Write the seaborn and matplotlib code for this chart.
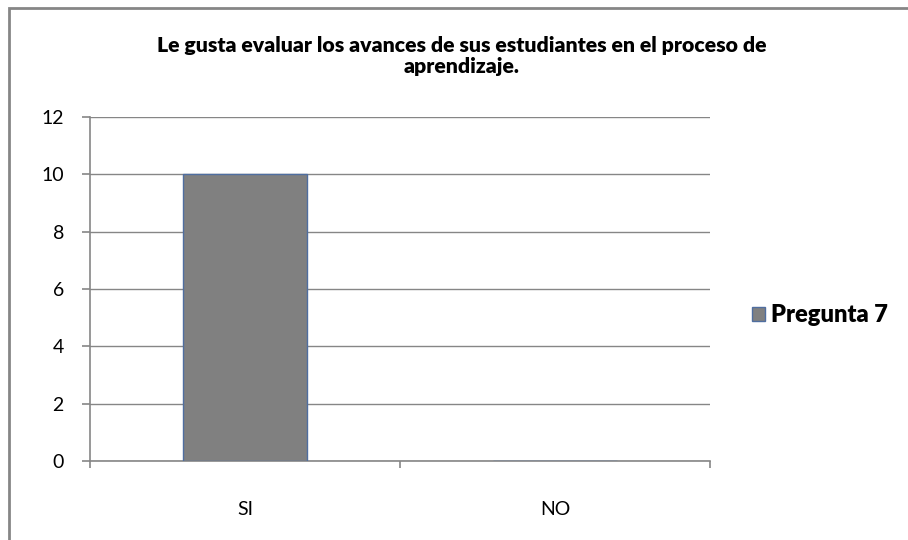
import matplotlib
matplotlib.use("Agg")
import matplotlib.pyplot as plt
import matplotlib.patches as mpatches
import seaborn as sns
import pandas as pd

categories = ["SI", "NO"]
values = [10, 0]
series_name = "Pregunta 7"
title = "Le gusta evaluar los avances de sus estudiantes en el proceso de\naprendizaje."
yticks = [0, 2, 4, 6, 8, 10, 12]

sns.set_style("white")
plt.rcParams['font.family'] = ['Lato', 'DejaVu Sans']
plt.rcParams['text.color'] = 'black'
plt.rcParams['xtick.color'] = 'black'
plt.rcParams['ytick.color'] = 'black'

df = pd.DataFrame({"cat": categories, "val": values})

fig = plt.figure(figsize=(9.08, 5.40), dpi=100)
ax = fig.add_axes([90/908, 1-461/540, 620/908, 344/540])

sns.barplot(data=df, x="cat", y="val", ax=ax, color="#808080", width=0.403,
            saturation=1, edgecolor="#4F6EA0", linewidth=1.0, zorder=3)

ax.set_ylim(0, 12)
ax.set_xlim(-0.5, 1.5)
ax.set_yticks(yticks)
ax.set_yticklabels([str(t) for t in yticks], fontsize=14)
ax.set_xlabel("")
ax.set_ylabel("")
ax.yaxis.grid(True, color="#868686", linewidth=1.0, zorder=0)
ax.set_axisbelow(True)
for s in ["top", "right"]:
    ax.spines[s].set_visible(False)
for s in ["left", "bottom"]:
    ax.spines[s].set_color("#868686")
    ax.spines[s].set_linewidth(1.2)

ax.set_xticks([-0.5, 0.5, 1.5])
ax.set_xticklabels(["", "", ""])
ax.tick_params(axis="x", bottom=True, direction="out", length=5, color="#868686", width=1.2)
ax.tick_params(axis="y", left=True, direction="out", length=5.8, color="#868686", width=1.2,
               pad=13, labelcolor="black")
for i, c in enumerate(categories):
    ax.text(i, -0.14, c, transform=ax.get_xaxis_transform(), ha="center", va="center",
            fontsize=14, color="black")

fig.text(462/908, 1-56/540, title, ha="center", va="center", fontsize=15.3,
         fontweight="heavy", linespacing=1.1, color="black")

handle = mpatches.Patch(facecolor="#808080", edgecolor="#4F6EA0", linewidth=1.0, label=series_name)
leg = fig.legend(handles=[handle], loc="center left", bbox_to_anchor=(731/908, 1-315/540),
                 frameon=False, prop={"weight": "heavy", "size": 17},
                 handlelength=0.55, handleheight=0.55, handletextpad=0.25)

border = mpatches.Rectangle((9/908, -0.1), 1.2, 1-8/540+0.1, transform=fig.transFigure,
                            fill=False, edgecolor="#868686", linewidth=2.0)
fig.patches.append(border)

fig.savefig("out.png", dpi=100)
